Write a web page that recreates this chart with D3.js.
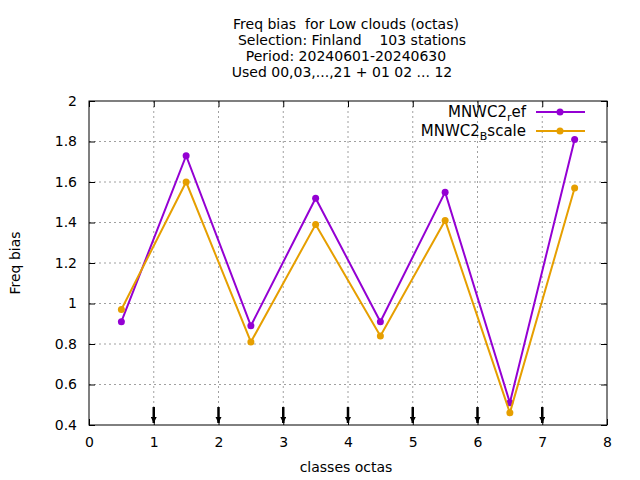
<!DOCTYPE html>
<html><head><meta charset="utf-8">
<script src="https://cdn.jsdelivr.net/npm/d3@7"></script>
<style>body{margin:0;background:#fff}text{font-family:"DejaVu Sans",sans-serif;font-size:14px;white-space:pre}</style>
</head><body><svg width="640" height="480"></svg>
<script>
const classes = [0.5,1.5,2.5,3.5,4.5,5.5,6.5,7.5]
const refValues = [0.91,1.73,0.89,1.52,0.91,1.55,0.51,1.81]
const bscaleValues = [0.97,1.60,0.81,1.39,0.84,1.41,0.46,1.57]
const arrowsAt = [1,2,3,4,5,6,7]
const xTicks = [0,1,2,3,4,5,6,7,8]
const yTicks = [0.4,0.6,0.8,1,1.2,1.4,1.6,1.8,2]
const titleLines = ['Freq bias  for Low clouds (octas)','Selection: Finland    103 stations','Period: 20240601-20240630','Used 00,03,...,21 + 01 02 ... 12']

const svg = d3.select('svg')
const L = 89, R = 607, T = 101, B = 425
const x = d3.scaleLinear().domain([0,8]).range([L,R])
const y = d3.scaleLinear().domain([0.4,2]).range([B,T])

// grid
svg.append('g').selectAll('line').data(xTicks.slice(1,-1)).enter().append('line')
  .attr('x1',d=>x(d)).attr('x2',d=>x(d)).attr('y1',T).attr('y2',B)
  .attr('stroke','#a0a0a0').attr('stroke-dasharray','2,3')
svg.append('g').selectAll('line').data(yTicks.slice(1,-1)).enter().append('line')
  .attr('x1',L).attr('x2',R).attr('y1',d=>y(d)).attr('y2',d=>y(d))
  .attr('stroke','#a0a0a0').attr('stroke-dasharray','2,3')

// axes (gnuplot style: inward ticks, mirrored)
const fmt = d => d3.format('~g')(d)
svg.append('g').attr('transform',`translate(0,${B})`).call(d3.axisBottom(x).tickValues(xTicks).tickSize(-6).tickPadding(12).tickFormat(fmt))
svg.append('g').attr('transform',`translate(0,${T})`).call(d3.axisTop(x).tickValues(xTicks).tickSize(-6).tickFormat(''))
svg.append('g').attr('transform',`translate(${L},0)`).call(d3.axisLeft(y).tickValues(yTicks).tickSize(-6).tickPadding(12).tickFormat(fmt))
svg.append('g').attr('transform',`translate(${R},0)`).call(d3.axisRight(y).tickValues(yTicks).tickSize(-6).tickFormat(''))
svg.selectAll('.domain').remove()
svg.selectAll('.tick text').style('font-size','14px').attr('fill','#000')
svg.append('rect').attr('x',L).attr('y',T).attr('width',R-L).attr('height',B-T).attr('fill','none').attr('stroke','#000')

// arrows
svg.append('defs').append('marker').attr('id','ah').attr('viewBox','0 0 10 10').attr('refX',10).attr('refY',5)
  .attr('markerWidth',2.5).attr('markerHeight',2.5).attr('orient','auto')
  .append('path').attr('d','M0,0L10,5L0,10z').attr('fill','#000')
svg.append('g').selectAll('line').data(arrowsAt).enter().append('line')
  .attr('x1',d=>x(d)).attr('x2',d=>x(d)).attr('y1',407).attr('y2',423)
  .attr('stroke','#000').attr('stroke-width',2.5).attr('marker-end','url(#ah)')

// series
const series = [{vals:refValues,color:'#9400d3'},{vals:bscaleValues,color:'#e69f00'}]
const line = d3.line().x((d,i)=>x(classes[i])).y(d=>y(d))
series.forEach(s=>{
  svg.append('path').datum(s.vals).attr('d',line).attr('fill','none').attr('stroke',s.color).attr('stroke-width',2)
  svg.append('g').selectAll('circle').data(s.vals).enter().append('circle')
    .attr('cx',(d,i)=>x(classes[i])).attr('cy',d=>y(d)).attr('r',3.5).attr('fill',s.color)
})

// legend
const leg = [{a:'MNWC2',sub:'r',b:'ef',color:'#9400d3',yy:112},{a:'MNWC2',sub:'B',b:'scale',color:'#e69f00',yy:131}]
leg.forEach(l=>{
  const t = svg.append('text').attr('x',526).attr('y',l.yy+5).attr('text-anchor','end').style('font-size','15px')
  t.append('tspan').text(l.a)
  t.append('tspan').attr('dy',4).style('font-size','11px').text(l.sub)
  t.append('tspan').attr('dy',-4).text(l.b)
  svg.append('line').attr('x1',536).attr('x2',585).attr('y1',l.yy).attr('y2',l.yy).attr('stroke',l.color).attr('stroke-width',2)
  svg.append('circle').attr('cx',560).attr('cy',l.yy).attr('r',3.5).attr('fill',l.color)
})

// titles
svg.append('g').selectAll('text').data(titleLines).enter().append('text')
  .attr('x',(d,i)=>[346,352,346,342][i]).attr('y',(d,i)=>29+i*16).attr('text-anchor','middle').text(d=>d)
svg.append('text').attr('x',346).attr('y',472).attr('text-anchor','middle').text('classes octas')
svg.append('text').attr('transform','translate(20,263) rotate(-90)').attr('text-anchor','middle').text('Freq bias')
</script></body></html>
